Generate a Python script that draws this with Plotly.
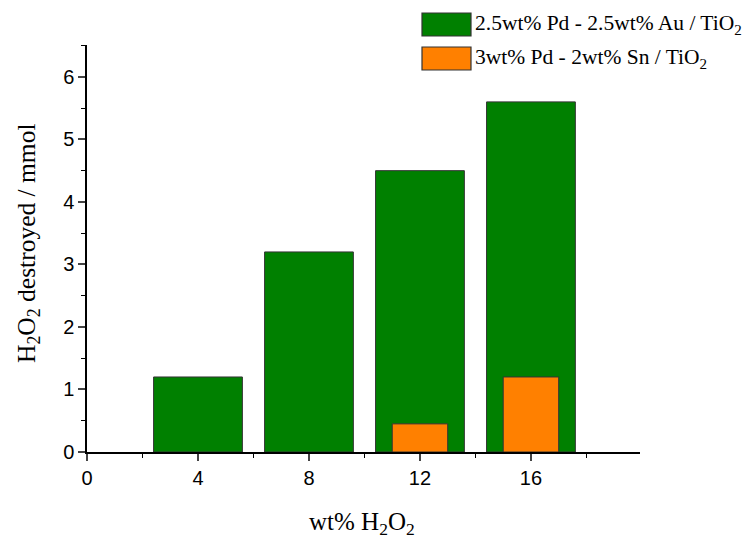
import plotly.graph_objects as go

categories = [4, 8, 12, 16]
pdau_values = [1.2, 3.2, 4.5, 5.6]
pdsn_x = [12, 16]
pdsn_values = [0.45, 1.2]
series_names = ["2.5wt% Pd - 2.5wt% Au / TiO<sub>2</sub>", "3wt% Pd - 2wt% Sn / TiO<sub>2</sub>"]
x_ticks = [0, 4, 8, 12, 16]
y_ticks = [0, 1, 2, 3, 4, 5, 6]
x_title = "wt% H<sub>2</sub>O<sub>2</sub>"
y_title = "H<sub>2</sub>O<sub>2</sub> destroyed / mmol"

green = "#008000"
orange = "#FF8000"
serif = "Liberation Serif, Times New Roman"

# page has an 8px body margin; figure is sized to fit the window
OFF = 8
FW, FH = 752 - OFF, 539 - OFF
L, T = 87 - OFF, 45 - OFF
PW, PH = 553, 407
R, B = FW - L - PW, FH - T - PH


def px(xp):
    return (xp - OFF - L) / PW


def py(yp):
    return (T + PH - (yp - OFF)) / PH


fig = go.Figure()
fig.add_trace(go.Bar(x=categories, y=pdau_values, width=3.2, name=series_names[0],
                     marker=dict(color=green, line=dict(color="#333333", width=1)),
                     showlegend=False))
fig.add_trace(go.Bar(x=pdsn_x, y=pdsn_values, width=2.0, name=series_names[1],
                     marker=dict(color=orange, line=dict(color="#333333", width=1)),
                     showlegend=False))

fig.update_layout(
    width=FW, height=FH,
    margin=dict(l=L, r=R, t=T, b=B, autoexpand=False),
    barmode="overlay",
    plot_bgcolor="white", paper_bgcolor="white",
    font=dict(family="Liberation Sans, Arial", size=20, color="black"),
)
fig.update_xaxes(range=[0, 19.93], tickvals=x_ticks, ticks="outside", ticklen=7, tickwidth=1.5,
                 showline=True, linecolor="black", linewidth=1.5, showgrid=False, zeroline=False,
                 automargin=False,
                 minor=dict(dtick=2, tick0=0, ticks="outside", ticklen=4, tickwidth=1.2, tickcolor="black"))
fig.update_yaxes(range=[0, 6.51], tickvals=y_ticks, ticks="outside", ticklen=7, tickwidth=1.5,
                 showline=True, linecolor="black", linewidth=1.5, showgrid=False, zeroline=False,
                 automargin=False,
                 minor=dict(dtick=0.5, tick0=0, ticks="outside", ticklen=4, tickwidth=1.2, tickcolor="black"))

# axis titles
fig.add_annotation(xref="paper", yref="paper", x=px(362), y=py(523),
                   text=x_title, showarrow=False, xanchor="center", yanchor="middle",
                   font=dict(family=serif, size=25, color="black"))
fig.add_annotation(xref="paper", yref="paper", x=px(28), y=py(243),
                   text=y_title, showarrow=False, xanchor="center", yanchor="middle", textangle=-90,
                   font=dict(family=serif, size=25.5, color="black"))

# manual legend
legend_items = [(series_names[0], green, 13), (series_names[1], orange, 47)]
for name, col, ytop in legend_items:
    fig.add_shape(type="rect", xref="paper", yref="paper",
                  x0=px(422), x1=px(471), y0=py(ytop + 23), y1=py(ytop),
                  fillcolor=col, line=dict(color="#333333", width=1.2))
    fig.add_annotation(xref="paper", yref="paper", x=px(473), y=py(ytop + 11.5),
                       text=name, showarrow=False, xanchor="left", yanchor="middle",
                       font=dict(family=serif, size=21.5, color="black"))

fig.write_html("out.html")
